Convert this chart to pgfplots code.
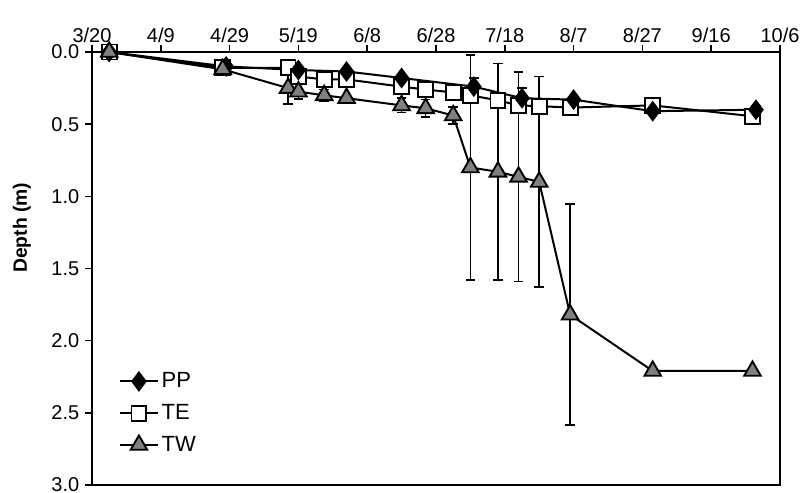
\documentclass[border=0pt]{standalone}
\usepackage{pgfplots}
\pgfplotsset{compat=1.18}
\usepackage{pgfplotstable}
\usepackage{fontspec}
\setmainfont{Liberation Sans}
\definecolor{twgray}{RGB}{128,128,128}

\pgfplotstableread{
x y e
5 0 0
39 0.10 0
60 0.125 0
74 0.135 0
90 0.18 0.02
111 0.24 0.06
125 0.32 0.07
140 0.33 0.03
163 0.41 0.02
193 0.40 0.03
}\PP

\pgfplotstableread{
x y e
5 0 0
38 0.11 0
57 0.11 0
60 0.17 0
67.5 0.19 0
74 0.19 0.02
90 0.24 0.02
97 0.26 0.02
105 0.28 0.02
110 0.30 0.02
118 0.335 0.02
124 0.37 0.02
130 0.375 0.02
139 0.385 0.02
163 0.37 0.02
192 0.445 0.02
}\TE

\pgfplotstableread{
x y e
5 0 0
38 0.12 0
57 0.25 0.11
60 0.275 0.05
67.5 0.30 0.04
74 0.32 0
90 0.37 0.05
97 0.39 0.06
105 0.44 0.06
110 0.80 0.78
118 0.83 0.75
124 0.865 0.725
130 0.90 0.73
139 1.82 0.765
163 2.21 0
192 2.21 0
}\TW

\begin{document}
\begin{tikzpicture}
\begin{axis}[
  name=ax,
  scale only axis,
  width=516pt, height=324.75pt,
  xmin=0, xmax=200, ymin=0, ymax=3,
  y dir=reverse,
  axis line style={line width=1.5pt},
  every tick/.style={black, line width=1.2pt},
  major tick length=5pt,
  tick align=outside,
  xtick pos=right, xticklabel pos=right,
  ytick pos=left,
  xtick={0,20,...,200},
  xticklabels={3/20,4/9,4/29,5/19,6/8,6/28,7/18,8/7,8/27,9/16,10/6},
  ytick={0,0.5,...,3},
  /pgf/number format/assume math mode=true,
  yticklabel={\pgfmathprintnumber[fixed,fixed zerofill,precision=1]{\tick}},
  ticklabel style={font=\fontsize{15}{17}\selectfont},
  xticklabel style={yshift=-1.2pt},
  yticklabel style={xshift=-1pt},
  ylabel={\textbf{Depth (m)}},
  ylabel style={at={(axis description cs:-0.102,0.594)}, rotate=0, anchor=center, font=\fontsize{14.5}{16}\selectfont},
  legend style={at={(0.033,0.272)}, anchor=north west, draw=none, fill=none,
    font=\fontsize{16.5}{18}\selectfont, row sep=7pt,
    legend cell align=left},
  legend image code/.code={\draw[mark repeat=2,mark phase=2] plot coordinates {(0cm,0cm) (0.5cm,0cm) (1.0cm,0cm)};},
  error bars/y dir=both, error bars/y explicit,
  error bars/error bar style={black, line width=1.2pt},
  error bars/error mark options={rotate=90, mark size=3.6pt, line width=1.2pt, black},
]
\addplot[black, line width=1.5pt, mark=square*, mark size=5.6pt, mark options={fill=white, line width=1.4pt}, forget plot]
  table[x=x, y=y, y error=e] {\TE};
\addplot[black, line width=1.5pt, mark=diamond*, mark size=6.6pt, mark options={fill=black}, forget plot]
  table[x=x, y=y, y error=e] {\PP};
\addplot[black, line width=1.5pt, mark=triangle*, mark size=7.2pt, mark options={fill=twgray, line width=1.4pt}, forget plot]
  table[x=x, y=y, y error=e] {\TW};
\addlegendimage{black, line width=1.5pt, mark=diamond*, mark size=6.6pt, mark options={fill=black}}
\addlegendentry{PP}
\addlegendimage{black, line width=1.5pt, mark=square*, mark size=5.6pt, mark options={fill=white, line width=1.4pt}}
\addlegendentry{TE}
\addlegendimage{black, line width=1.5pt, mark=triangle*, mark size=7.2pt, mark options={fill=twgray, line width=1.4pt}}
\addlegendentry{TW}
\end{axis}
\pgfresetboundingbox
\path ([xshift=-69pt,yshift=-5.25pt]ax.south west) rectangle ([xshift=15.75pt,yshift=39pt]ax.north east);
\end{tikzpicture}
\end{document}
